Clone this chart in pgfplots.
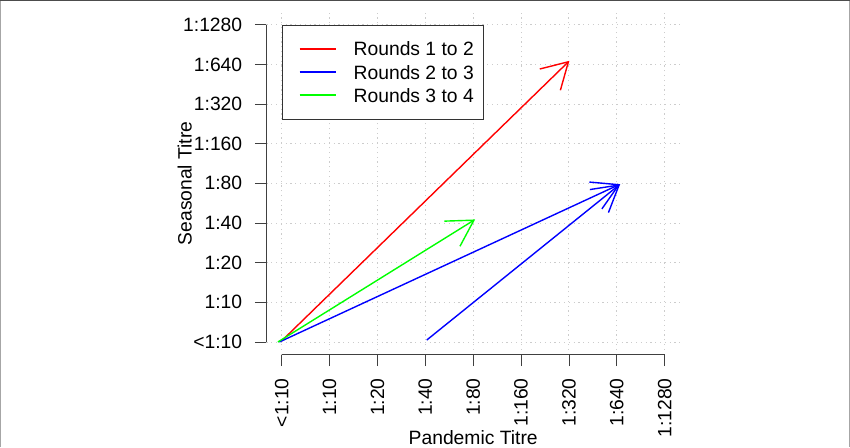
\documentclass[border=0pt]{standalone}
\usepackage{pgfplots}
\pgfplotsset{compat=1.18}
\usepackage{fontspec}
\setmainfont{Liberation Sans}
\usetikzlibrary{arrows.meta}

\begin{document}
\begin{tikzpicture}[font=\fontsize{19.3}{23}\selectfont]
  \useasboundingbox (0,0) rectangle (850pt,447pt);
  % outer frame (partly cropped in the original figure)
  \draw[gray!70, line width=1.2pt] (0.6pt,0pt) -- (0.6pt,446.4pt);
  \draw[black!70, line width=1.2pt] (0pt,446.4pt) -- (850pt,446.4pt);
  \draw[gray!70, line width=1.2pt] (849.4pt,0pt) -- (849.4pt,446.4pt);

  \begin{axis}[
      at={(266.4pt,92.3pt)}, anchor=south west,
      scale only axis,
      width=413.6pt, height=342.7pt,
      xmin=-0.32, xmax=8.32, ymin=-0.32, ymax=8.32,
      axis x line*=bottom, axis y line*=left,
      x axis line style={shorten <=15.3pt, shorten >=15.3pt},
      y axis line style={shorten <=12.7pt, shorten >=12.7pt},
      axis line style={black!75, line width=0.8pt},
      xtick={0,...,8}, ytick={0,...,8},
      xticklabels={<1:10,1:10,1:20,1:40,1:80,1:160,1:320,1:640,1:1280},
      yticklabels={<1:10,1:10,1:20,1:40,1:80,1:160,1:320,1:640,1:1280},
      tick align=outside,
      major tick length=11.5pt,
      tick style={black!75, line width=0.8pt},
      xticklabel style={rotate=90, anchor=east, inner sep=0pt},
      yticklabel style={anchor=east, inner sep=0pt},
      xticklabel shift=12pt, yticklabel shift=12.5pt,
      grid=major,
      major grid style={gray!40, line width=1pt, dash pattern=on 1.2pt off 3.6pt},
      xlabel={Pandemic Titre}, ylabel={Seasonal Titre},
      every axis x label/.style={at={(axis description cs:0.5,0)}, anchor=base, yshift=-89.8pt},
      every axis y label/.style={at={(axis description cs:0,0.5)}, rotate=90, anchor=base, yshift=74.7pt},
      legend cell align=left,
      legend style={at={(axis cs:0,8)}, anchor=north west,
        draw=black!80, line width=0.8pt,
        inner xsep=9.3pt, inner ysep=16.6pt,
        row sep=9.4pt, column sep=16.2pt,
        nodes={inner sep=0pt, text depth=0pt}},
      legend image code/.code={
        \path[draw=none, fill=none] (0pt,0pt) -- (1pt,0pt);
        \draw[#1, -, solid, line width=2pt] (8.3pt,0pt) -- (45pt,0pt);},
    ]
    \addplot[red, line width=1.4pt, -{Straight Barb[length=25.6pt, width=29.6pt]}]
      coordinates {(0,0.03) (6.01,7.09)};
    \addlegendentry{Rounds 1 to 2}
    \addplot[blue, line width=1.4pt, -{Straight Barb[length=25.6pt, width=29.6pt]}]
      coordinates {(-0.05,0) (7.07,3.98)};
    \addlegendentry{Rounds 2 to 3}
    \addplot[green, line width=1.4pt, -{Straight Barb[length=25.6pt, width=29.6pt]}]
      coordinates {(-0.08,0) (4.04,3.09)};
    \addlegendentry{Rounds 3 to 4}
    \addplot[blue, line width=1.4pt, forget plot, -{Straight Barb[length=25.6pt, width=29.6pt]}]
      coordinates {(3.03,0.05) (7.07,3.98)};
  \end{axis}
\end{tikzpicture}
\end{document}
